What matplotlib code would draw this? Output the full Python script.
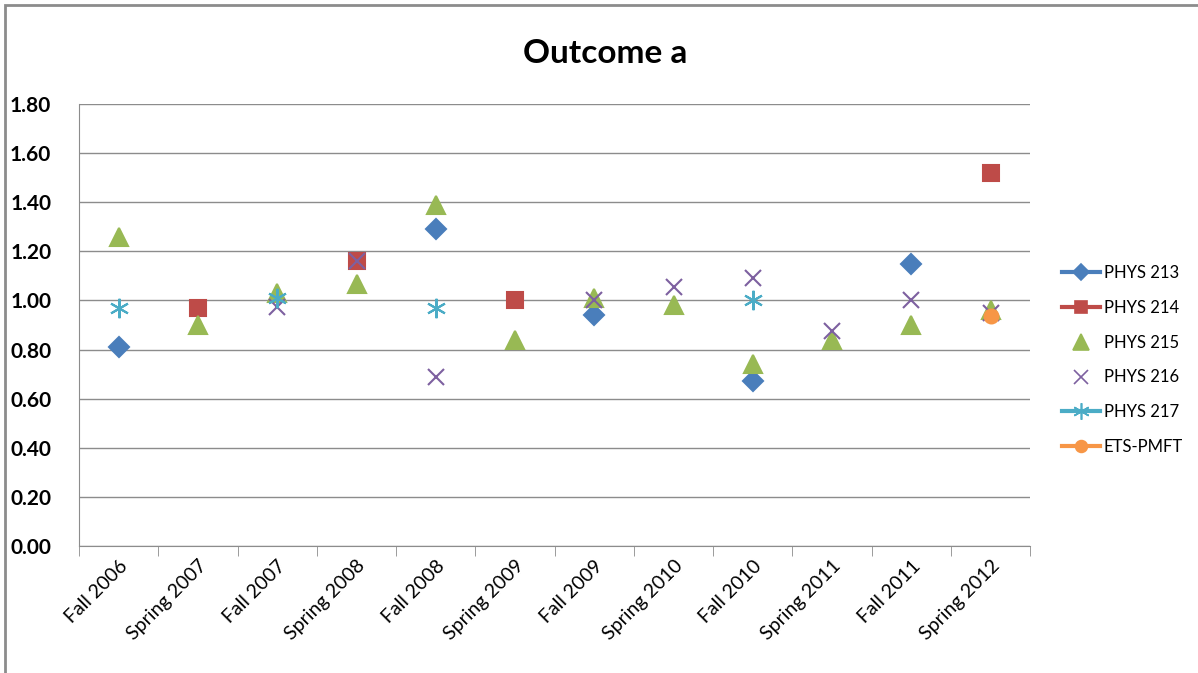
import numpy as np
import matplotlib
matplotlib.use('Agg')
from matplotlib import pyplot as plt
from matplotlib.lines import Line2D
from matplotlib.patches import Rectangle

nan = np.nan

terms = ['Fall 2006', 'Spring 2007', 'Fall 2007', 'Spring 2008', 'Fall 2008',
         'Spring 2009', 'Fall 2009', 'Spring 2010', 'Fall 2010', 'Spring 2011',
         'Fall 2011', 'Spring 2012']

phys213 = [0.81, nan, nan, nan, 1.29, nan, 0.94, nan, 0.67, nan, 1.15, nan]
phys214 = [nan, 0.97, nan, 1.16, nan, 1.00, nan, nan, nan, nan, nan, 1.52]
phys215 = [1.26, 0.90, 1.03, 1.065, 1.39, 0.84, 1.01, 0.98, 0.74, 0.84, 0.90, 0.96]
phys216 = [nan, nan, 0.975, 1.16, 0.69, nan, 1.00, 1.055, 1.09, 0.875, 1.00, 0.95]
phys217 = [0.97, nan, 1.01, nan, 0.97, nan, nan, nan, 1.00, nan, nan, nan]
ets_pmft = [nan, nan, nan, nan, nan, nan, nan, nan, nan, nan, nan, 0.935]

yticks = [0.0, 0.2, 0.4, 0.6, 0.8, 1.0, 1.2, 1.4, 1.6, 1.8]

plt.rcParams['font.family'] = ['Lato', 'DejaVu Sans']

fig = plt.figure(figsize=(11.98, 6.73), dpi=100)
ax = fig.add_axes([0.066, 0.1887, 0.794, 0.6568])

x = np.arange(len(terms))

# series: (values, label, color, marker, size, legend line?)
series = [
    (phys213, 'PHYS 213', '#4A7EBB', 'D', 10, True),
    (phys214, 'PHYS 214', '#BE4B48', 's', 11, True),
    (phys215, 'PHYS 215', '#98B954', '^', 13, False),
    (phys216, 'PHYS 216', '#7D60A0', 'x', 12, False),
    (phys217, 'PHYS 217', '#4BACC6', (6, 2, 0), 14, True),
    (ets_pmft, 'ETS-PMFT', '#F79646', 'o', 10, True),
]

handles = []
for vals, lab, col, mk, ms, has_line in series:
    ax.plot(x, vals, ls='none', marker=mk, ms=ms, color=col,
            mec=col, mew=1.5, zorder=3)
    handles.append(Line2D([], [], ls='-' if has_line else 'none', lw=3,
                          color=col, marker=mk, ms=ms * 0.85, mew=1.2,
                          label=lab))

ax.set_xlim(-0.5, len(terms) - 0.5)
ax.set_ylim(0, 1.8)
ax.set_yticks(yticks)
ax.set_yticklabels(['%0.2f' % v for v in yticks], fontsize=15, fontweight='bold')
ax.yaxis.grid(True, color='#8c8c8c', lw=1)
ax.set_axisbelow(True)
ax.tick_params(axis='y', length=0, pad=20)

ax.set_xticks(x)
ax.set_xticklabels(terms, rotation=45, ha='right', rotation_mode='anchor',
                   fontsize=14)
ax.set_xticks(np.arange(-0.5, len(terms)), minor=True)
ax.tick_params(axis='x', which='major', length=0, pad=8)
ax.tick_params(axis='x', which='minor', length=7, color='#8c8c8c')

for s in ['top', 'right']:
    ax.spines[s].set_visible(False)
for s in ['left', 'bottom']:
    ax.spines[s].set_color('#8c8c8c')

fig.text(0.505, 0.92, 'Outcome a', ha='center', va='center',
         fontsize=24, fontweight='bold')

fig.legend(handles=handles, loc='center left', bbox_to_anchor=(0.874, 0.465),
           frameon=False, fontsize=12, labelspacing=1.13, handlelength=2.3,
           handletextpad=0.2)

fig.patches.append(Rectangle((5 / 1198, -0.05), 1.2, 1.05 - 5 / 673 + 0.0,
                             transform=fig.transFigure, fill=False,
                             ec='#8c8c8c', lw=2))

fig.savefig('out.png', dpi=100)
